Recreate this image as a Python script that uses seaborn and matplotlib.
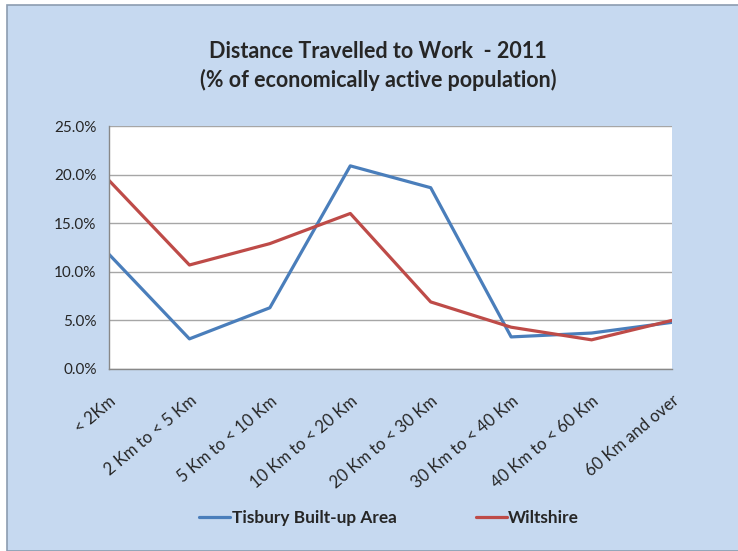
import numpy as np
import pandas as pd
import matplotlib
matplotlib.use("Agg")
import matplotlib.pyplot as plt
import matplotlib.transforms as mtransforms
import seaborn as sns
from matplotlib.patches import Rectangle
from matplotlib.lines import Line2D

# datos
categorias = ["< 2Km", "2 Km to < 5 Km", "5 Km to < 10 Km", "10 Km to < 20 Km",
              "20 Km to < 30 Km", "30 Km to < 40 Km", "40 Km to < 60 Km", "60 Km and over"]
tisbury = [11.8, 3.1, 6.3, 20.9, 18.65, 3.3, 3.7, 4.8]
wiltshire = [19.4, 10.7, 12.9, 16.0, 6.9, 4.3, 3.0, 5.0]
series = ["Tisbury Built-up Area", "Wiltshire"]
colores = ["#4A7EBB", "#BE4B48"]
yticks = [0, 5, 10, 15, 20, 25]

df = pd.DataFrame({
    "cat": categorias * 2,
    "pct": tisbury + wiltshire,
    "serie": [series[0]] * len(categorias) + [series[1]] * len(categorias),
})

sns.set_style("white")
plt.rcParams["font.family"] = ["Lato", "DejaVu Sans"]

W, H = 738, 551
fig = plt.figure(figsize=(W / 100, H / 100), dpi=100)
fig.patch.set_facecolor("white")
# fondo del grafico con borde
fig.patches.append(Rectangle((7 / W, 0), 1, 1 - 5 / H, transform=fig.transFigure,
                             facecolor="#C6D9F0", edgecolor="#8C9CB0", lw=1.2, zorder=-10))

ax = fig.add_axes([109 / W, 1 - 369 / H, (672 - 109) / W, (369 - 126) / H])
ax.set_facecolor("white")

sns.lineplot(data=df, x="cat", y="pct", hue="serie", palette=colores, sort=False,
             lw=2.3, ax=ax, legend=False)

ax.set_xlim(0, len(categorias) - 1)
ax.set_ylim(0, 25)
ax.set_yticks(yticks)
ax.set_yticklabels([f"{v:.1f}%" for v in yticks], fontsize=11)
ax.set_xticks(range(len(categorias)))
ax.set_xticklabels(categorias, rotation=40, ha="right", rotation_mode="anchor", fontsize=12)
ax.set_xlabel("")
ax.set_ylabel("")
ax.grid(axis="y", color="#A6A6A6", lw=1)
ax.set_axisbelow(True)
for s in ["top", "right"]:
    ax.spines[s].set_visible(False)
for s in ["left", "bottom"]:
    ax.spines[s].set_color("#888888")
    ax.spines[s].set_linewidth(1)
ax.tick_params(axis="both", direction="out", length=5, color="#888888", width=1, pad=4)
ax.tick_params(axis="x", pad=12)

fig.text(378 / W, 1 - 51 / H, "Distance Travelled to Work  - 2011", ha="center", va="center",
         fontsize=15.5, fontweight="bold")
fig.text(378 / W, 1 - 80 / H, "(% of economically active population)", ha="center", va="center",
         fontsize=15.5, fontweight="bold")

handles = [Line2D([], [], color=c, lw=2.3) for c in colores]
fig.legend(handles, series, loc="center", bbox_to_anchor=(389 / W, 1 - 518 / H), ncol=2,
           frameon=False, prop={"weight": "bold", "size": 12.4}, handlelength=1.8,
           handletextpad=0.1, columnspacing=4.6)

fig.savefig("out.png", dpi=100)
